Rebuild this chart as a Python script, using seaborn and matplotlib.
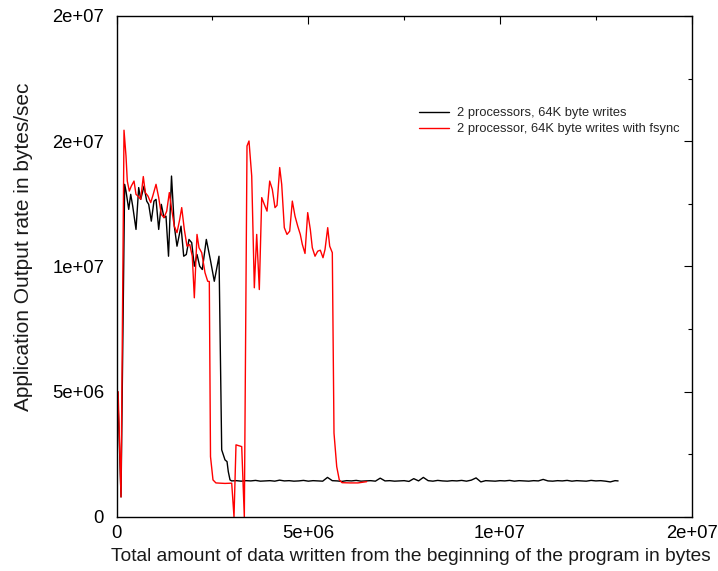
import matplotlib
matplotlib.use("Agg")
import matplotlib.pyplot as plt
from matplotlib.ticker import MultipleLocator
from matplotlib.lines import Line2D
import seaborn as sns
import pandas as pd

# ---------------- data (x in millions of bytes, y in millions of bytes/sec) -------------
black_head_x = [0.03, 0.115, 0.21, 0.245, 0.316, 0.368, 0.42, 0.506, 0.576, 0.629, 0.715,
                0.785, 0.837, 0.905, 0.975, 1.028, 1.098, 1.166, 1.236, 1.288, 1.354, 1.432,
                1.505, 1.575, 1.68, 1.75, 1.818, 1.888, 1.959, 2.027, 2.097, 2.167, 2.235,
                2.34, 2.444, 2.548, 2.671, 2.741, 2.827, 2.88, 2.913, 2.958]
black_head_y = [5.0, 0.8, 13.28, 13.01, 12.28, 12.88, 12.41, 11.48, 13.15, 12.68, 13.21,
                12.61, 12.48, 11.81, 12.61, 12.68, 11.48, 12.48, 11.95, 12.01, 10.41, 13.61,
                11.61, 10.81, 11.61, 10.41, 10.48, 11.08, 10.95, 10.01, 10.48, 10.01, 9.88,
                11.08, 10.28, 9.41, 10.41, 2.68, 2.28, 2.21, 1.81, 1.48]
black_tail_x = [3.0, 3.125, 3.25, 3.375, 3.5, 3.625, 3.75, 3.875, 4.0, 4.125, 4.25, 4.375,
                4.5, 4.625, 4.75, 4.875, 5.0, 5.125, 5.25, 5.375, 5.5, 5.625, 5.75, 5.875,
                6.0, 6.125, 6.25, 6.375, 6.5, 6.625, 6.75, 6.875, 7.0, 7.125, 7.25, 7.375,
                7.5, 7.625, 7.75, 7.875, 8.0, 8.125, 8.25, 8.375, 8.5, 8.625, 8.75, 8.875,
                9.0, 9.125, 9.25, 9.375, 9.5, 9.625, 9.75, 9.875, 10.0, 10.125, 10.25,
                10.375, 10.5, 10.625, 10.75, 10.875, 11.0, 11.125, 11.25, 11.375, 11.5,
                11.625, 11.75, 11.875, 12.0, 12.125, 12.25, 12.375, 12.5, 12.625, 12.75,
                12.875, 13.0, 13.08]
black_tail_y = [1.44, 1.45, 1.43, 1.45, 1.44, 1.46, 1.43, 1.44, 1.45, 1.43, 1.47, 1.44,
                1.45, 1.43, 1.44, 1.46, 1.43, 1.45, 1.44, 1.43, 1.58, 1.45, 1.44, 1.42,
                1.45, 1.44, 1.46, 1.43, 1.44, 1.45, 1.43, 1.55, 1.44, 1.45, 1.43, 1.44,
                1.45, 1.42, 1.53, 1.44, 1.58, 1.45, 1.43, 1.46, 1.44, 1.43, 1.45, 1.44,
                1.46, 1.43, 1.47, 1.56, 1.40, 1.45, 1.44, 1.43, 1.45, 1.44, 1.46,
                1.43, 1.45, 1.44, 1.43, 1.45, 1.44, 1.50, 1.44, 1.43, 1.45,
                1.44, 1.46, 1.43, 1.45, 1.44, 1.43, 1.46, 1.44, 1.45, 1.43,
                1.40, 1.45, 1.44]

red_x = [0.04, 0.115, 0.193, 0.245, 0.279, 0.331, 0.383, 0.454, 0.506, 0.558, 0.629,
         0.696, 0.749, 0.819, 0.889, 0.942, 1.028, 1.098, 1.166, 1.236, 1.307, 1.375,
         1.437, 1.505, 1.575, 1.646, 1.698, 1.766, 1.836, 1.907, 1.974, 2.027, 2.097,
         2.149, 2.22, 2.306, 2.376, 2.418, 2.449, 2.514, 2.59, 2.697, 2.827, 3.002,
         3.062, 3.114, 3.263, 3.331, 3.401, 3.453, 3.524, 3.592, 3.654, 3.722, 3.785,
         3.852, 3.923, 3.993, 4.061, 4.131, 4.184, 4.254, 4.306, 4.374, 4.444, 4.515,
         4.583, 4.653, 4.724, 4.791, 4.844, 4.914, 4.984, 5.052, 5.104, 5.175, 5.245,
         5.313, 5.383, 5.436, 5.506, 5.558, 5.626, 5.67, 5.741, 5.808, 5.879, 6.087,
         6.296, 6.523]
red_y = [5.0, 0.8, 15.44, 14.41, 13.41, 13.01, 13.21, 13.41, 12.88, 12.81, 12.68,
         13.59, 12.95, 12.81, 12.55, 12.81, 13.28, 12.75, 12.08, 11.95, 12.21, 12.95,
         12.28, 11.61, 11.35, 11.88, 12.35, 11.48, 10.81, 10.88, 10.41, 8.75, 11.28,
         10.75, 10.55, 9.75, 9.41, 9.40, 2.41, 1.48, 1.36, 1.35, 1.34, 1.35,
         0.0, 2.88, 2.81, 0.0, 14.81, 15.01, 13.61, 9.15, 11.28, 9.08, 12.75,
         12.48, 12.21, 13.41, 13.08, 12.35, 12.44, 13.95, 13.28, 11.55, 11.28, 11.41,
         12.61, 12.01, 11.61, 11.28, 10.88, 10.52, 12.15, 11.48, 10.75, 10.41, 10.61,
         10.65, 10.35, 10.68, 11.55, 10.81, 10.55, 3.35, 2.01, 1.48, 1.37, 1.36,
         1.36, 1.41]

series_labels = ["2 processors, 64K byte writes",
                 "2 processor, 64K byte writes with fsync"]
series_colors = ["#000000", "#ff0000"]

x_ticks = [0, 5e6, 1e7, 1.5e7]
x_tick_labels = ["0", "5e+06", "1e+07", "2e+07"]
y_ticks = [0, 5e6, 1e7, 1.5e7, 2e7]
y_tick_labels = ["0", "5e+06", "1e+07", "2e+07", "2e+07"]

x_label = "Total amount of data written from the beginning of the program in bytes"
y_label = "Application Output rate in bytes/sec"

# ---------------- build table ----------------
bx = black_head_x + black_tail_x
by = black_head_y + black_tail_y
df = pd.DataFrame({
    "x": [v * 1e6 for v in bx] + [v * 1e6 for v in red_x],
    "y": [v * 1e6 for v in by] + [v * 1e6 for v in red_y],
    "series": [series_labels[0]] * len(bx) + [series_labels[1]] * len(red_x),
})

sns.set_style("white")
plt.rcParams["font.family"] = ["Liberation Sans", "DejaVu Sans"]

fig = plt.figure(figsize=(7.18, 5.71), dpi=100)
ax = fig.add_axes([0.1624, 0.0946, 0.8010, 0.8774])

sns.lineplot(data=df, x="x", y="y", hue="series", hue_order=series_labels,
             palette=dict(zip(series_labels, series_colors)),
             estimator=None, sort=False, linewidth=1.0, ax=ax, legend=False)

ax.set_xlim(0, 1.5e7)
ax.set_ylim(0, 2e7)
ax.set_xticks(x_ticks)
ax.set_xticklabels(x_tick_labels)
ax.set_yticks(y_ticks)
ax.set_yticklabels(y_tick_labels)
ax.xaxis.set_minor_locator(MultipleLocator(2.5e6))
ax.yaxis.set_minor_locator(MultipleLocator(2.5e6))
ax.tick_params(which="both", direction="in", top=True, right=True, colors="black",
               width=0.8)
ax.tick_params(which="major", length=6)
ax.tick_params(which="minor", length=3)
ax.tick_params(axis="y", which="major", pad=9, labelsize=13.3)
ax.tick_params(axis="x", which="major", pad=6, labelsize=13.3)

for sp in ax.spines.values():
    sp.set_visible(True)
    sp.set_color("black")
    sp.set_linewidth(1.0)

ax.set_xlabel(x_label, fontsize=13.8, color="#1a1a1a")
ax.set_ylabel(y_label, fontsize=15, color="#1a1a1a")
ax.xaxis.set_label_coords(0.512, -0.062)
ax.yaxis.set_label_coords(-0.146, 0.54)

handles = [Line2D([0], [0], color=c, lw=1.0) for c in series_colors]
ax.legend(handles, series_labels, frameon=False, loc="upper left",
          bbox_to_anchor=(0.526, 0.818), borderpad=0, borderaxespad=0,
          handlelength=2.3, handletextpad=0.6, labelspacing=0.3, fontsize=9.3)

fig.savefig("out.png", dpi=100)
